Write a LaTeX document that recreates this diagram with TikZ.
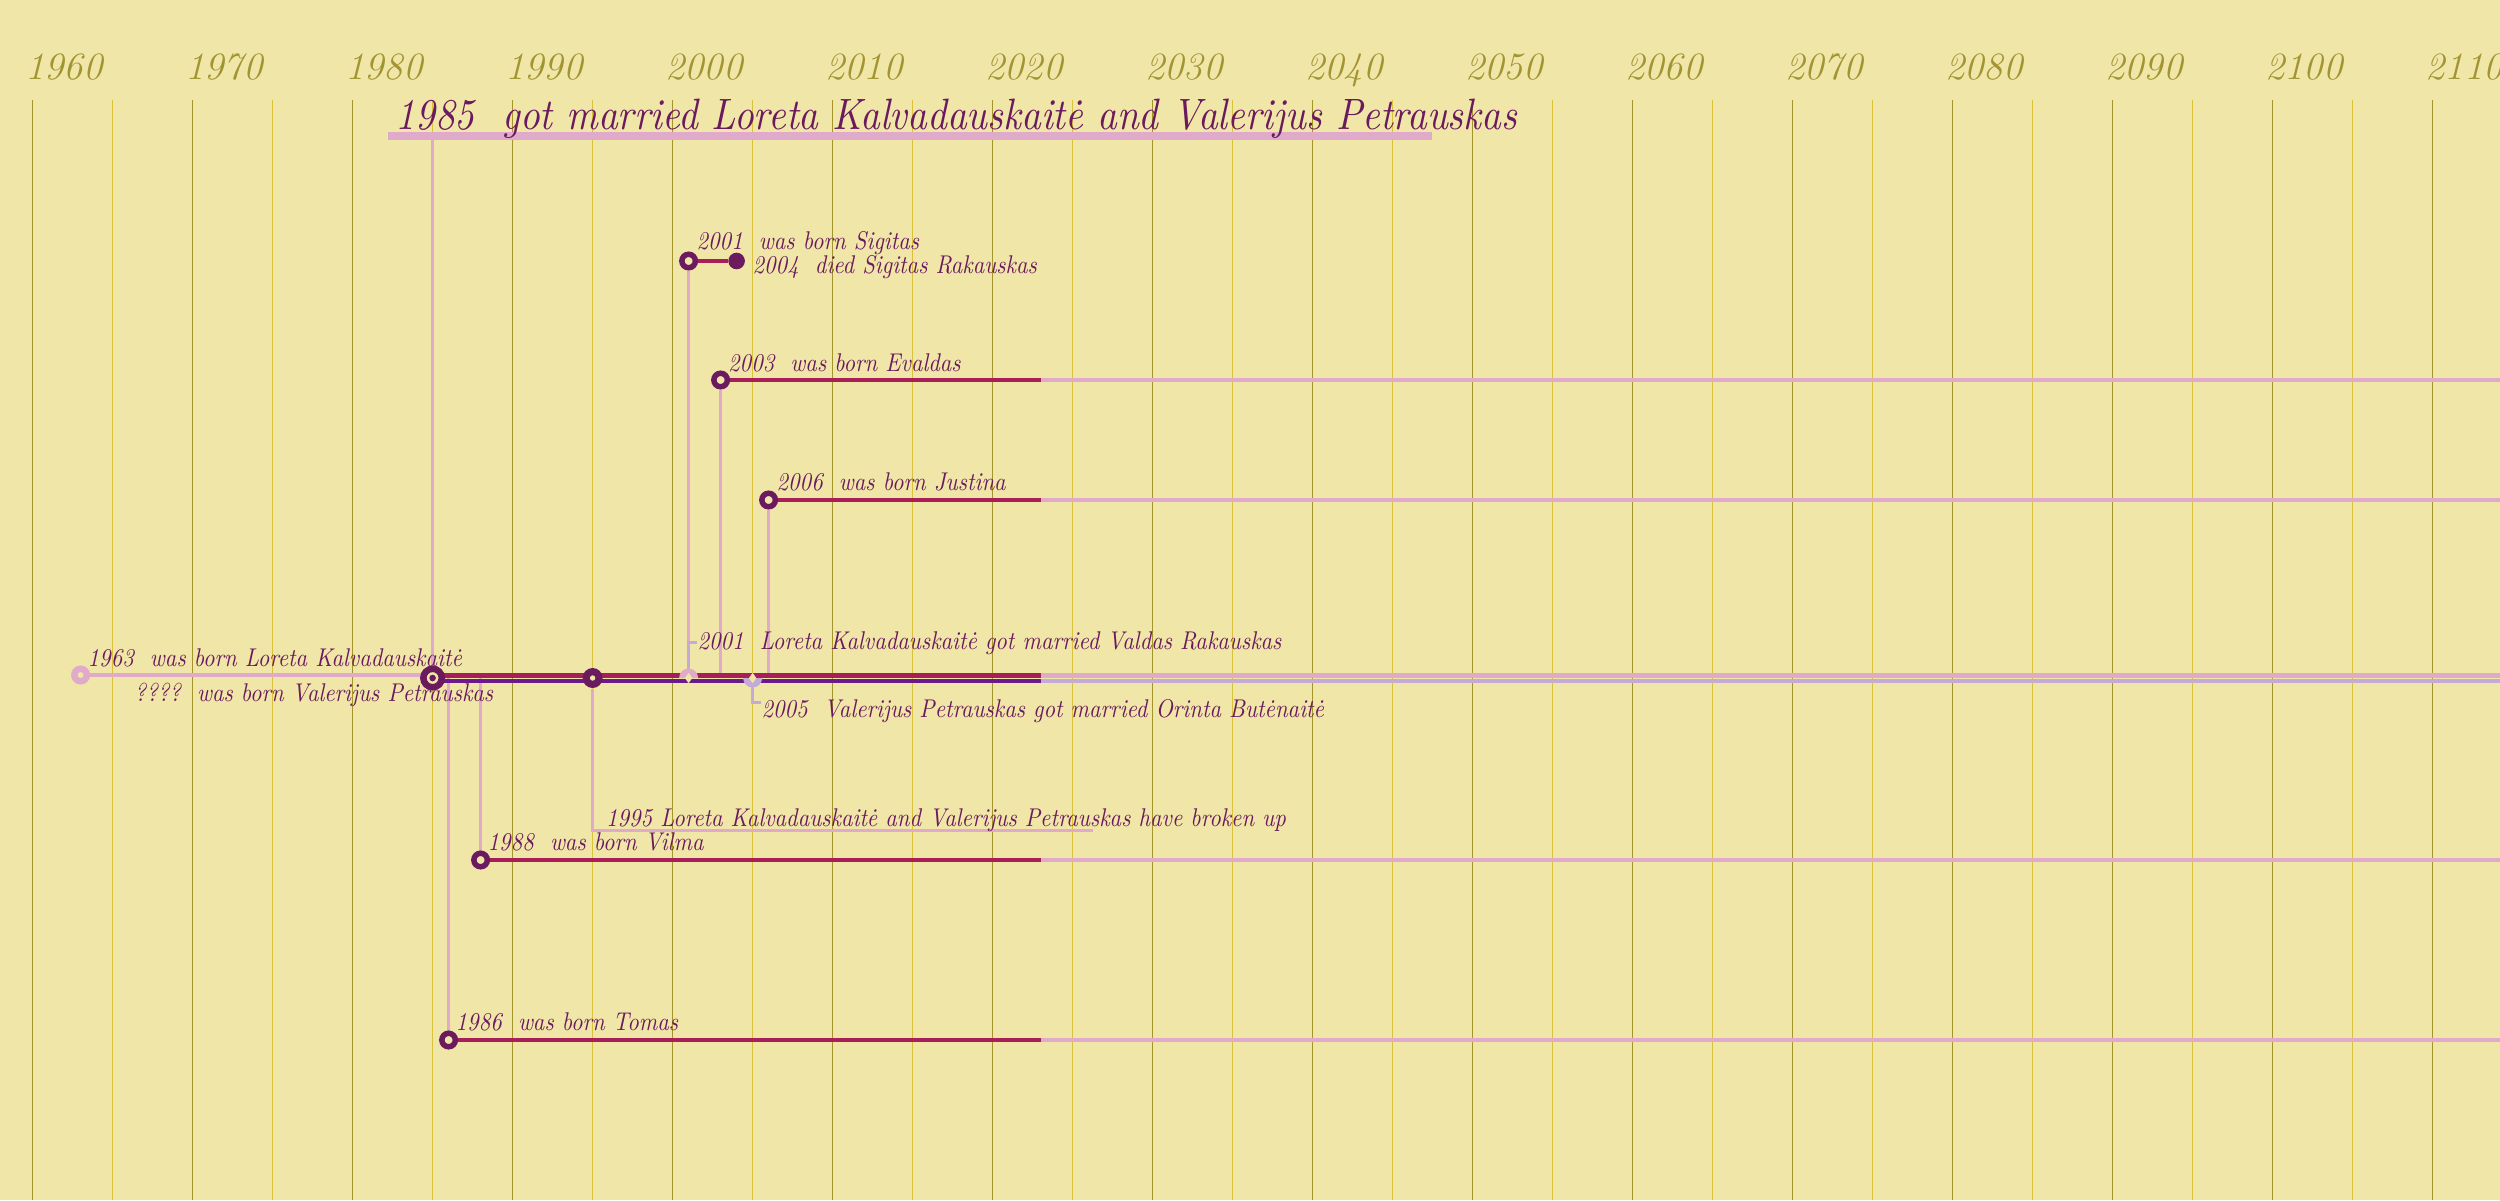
\documentclass[tikz,border=0pt]{standalone}
\usepackage{fontspec}
\usepackage{tikz}
\usetikzlibrary{shapes.geometric}
\newfontfamily\handfont{lmroman10-italic.otf}[FakeStretch=0.88]
\newfontfamily\headfont{lmroman10-italic.otf}[FakeStretch=0.88]
\pgfdeclarelayer{paper}
\pgfdeclarelayer{lines}
\pgfsetlayers{paper,lines,main}
\definecolor{paperc}{HTML}{F0E6A8}
\definecolor{decadec}{HTML}{A3952A}
\definecolor{halfc}{HTML}{D8C23A}
\definecolor{yearc}{HTML}{A39432}
\definecolor{inkc}{HTML}{6B1A5E}
\definecolor{crimsonc}{HTML}{A81E58}
\definecolor{purplec}{HTML}{6A1A8A}
\definecolor{pinkc}{HTML}{E0AACA}
\definecolor{lavenderc}{HTML}{C4AAD6}

\begin{document}
\begin{tikzpicture}[
        x=1.6mm, y=-0.1mm, shift={(-1957.9625,0)},
        yearlabel/.style={anchor=base west, inner sep=0pt, xshift=-0.8mm, text=yearc, font=\fontsize{11}{13}\selectfont\itshape},
        evtext/.style={anchor=base west, inner sep=0pt, text=inkc, font=\fontsize{7.3}{9}\handfont},
        headline/.style={evtext, font=\fontsize{12.5}{14}\headfont},
        born/.style={circle, draw=inkc, fill=paperc, line width=0.55mm, minimum size=1.35mm, inner sep=0pt},
        firstborn/.style={born, draw=pinkc, line width=0.65mm, minimum size=1.25mm},
        died/.style={circle, fill=inkc, minimum size=1.66mm, inner sep=0pt},
        wedding/.style={born, line width=0.65mm, minimum size=1.85mm,
          path picture={\fill[inkc] (path picture bounding box.center) circle (0.33mm);}},
        breakup/.style={circle, fill=inkc, minimum size=2mm, inner sep=0pt,
          path picture={\fill[paperc] (path picture bounding box.center) circle (0.27mm);}},
        gap/.style={diamond, fill=paperc, minimum width=0.8mm, minimum height=1.1mm, inner sep=0pt},
        lifeline/.style={line width=0.44mm},
        kidline/.style={line width=0.36mm},
        link/.style={pinkc, line width=0.3mm},
        tick/.style={lavenderc, line width=0.3mm}
        ]

        \useasboundingbox (1957.9625,0) rectangle (2114.2125,1200);

        \begin{pgfonlayer}{paper}
          \fill[paperc] (1957.9625,0) rectangle (2114.2125,1200);
          \foreach \yr in {1965,1975,...,2105}
            \draw[halfc, line width=0.15mm] (\yr,100) -- (\yr,1200);
          \foreach \yr in {1960,1970,...,2110} {
            \draw[decadec, line width=0.15mm] (\yr,100) -- (\yr,1200);
            \node[yearlabel] (y\yr) at (\yr,80) {\yr};
          }
        \end{pgfonlayer}

        \node[firstborn] (lorBorn) at (1963,675) {};
        \node[wedding]   (married) at (1985,678) {};
        \node[breakup]   (brokeUp) at (1995,678) {};
        \fill[pinkc] (2001,678) ++(-0.95mm,0) arc[start angle=180, end angle=0, radius=0.95mm] -- cycle;
        \node[gap]       (wedL)    at (2001,678) {};
        \fill[lavenderc] (2005,678) ++(-0.95mm,0) arc[start angle=180, end angle=360, radius=0.95mm] -- cycle;
        \node[gap]       (wedV)    at (2005,678) {};

        \node[born] (sigBorn) at (2001,261)  {};
        \node[died] (sigDied) at (2004,261)  {};
        \node[born] (evBorn)  at (2003,380)  {};
        \node[born] (juBorn)  at (2006,500)  {};
        \node[born] (viBorn)  at (1988,860)  {};
        \node[born] (toBorn)  at (1986,1040) {};

        \node[headline] (title)      at (1982.65,130) {1985~~got married Loreta Kalvadauskaitė and Valerijus Petrauskas};
        \node[evtext]   (lblLor)     at (1963.4,666)  {1963~~was born Loreta Kalvadauskaitė};
        \node[evtext]   (lblVal)     at (1966.34,701) {????~~was born Valerijus Petrauskas};
        \node[evtext]   (lblWedL)    at (2001.52,649) {2001~~Loreta Kalvadauskaitė got married Valdas Rakauskas};
        \node[evtext]   (lblWedV)    at (2005.52,717) {2005~~Valerijus Petrauskas got married Orinta Butėnaitė};
        \node[evtext]   (lblBroke)   at (1995.8,826)  {1995 Loreta Kalvadauskaitė and Valerijus Petrauskas have broken up};
        \node[evtext]   (lblSig)     at (2001.46,249) {2001~~was born Sigitas};
        \node[evtext]   (lblSigDied) at (2004.96,273) {2004~~died Sigitas Rakauskas};
        \node[evtext]   (lblEv)      at (2003.43,371) {2003~~was born Evaldas};
        \node[evtext]   (lblJu)      at (2006.46,490) {2006~~was born Justina};
        \node[evtext]   (lblVi)      at (1988.4,850)  {1988~~was born Vilma};
        \node[evtext]   (lblTo)      at (1986.4,1030) {1986~~was born Tomas};

        \begin{pgfonlayer}{lines}
          \coordinate (titleL) at (1982.21,136);
          \coordinate (titleR) at (2047.46,136);
          \draw[link] (married) -- (married |- titleL);
          \draw[pinkc, line width=0.8mm] (titleL) -- (titleR);

          \foreach \kid/\yr/\yy in {ev/2003/380, ju/2006/500, vi/1988/860, to/1986/1040} {
            \coordinate (\kid Up)  at (\yr,678);
            \coordinate (\kid Now) at (2023,\yy);
            \coordinate (\kid End) at (2114.3,\yy);
            \draw[link] (\kid Born) -- (\kid Up);
            \draw[kidline, crimsonc] (\kid Born) -- (\kid Now);
            \draw[kidline, pinkc] (\kid Now) -- (\kid End);
          }
          \draw[link] (sigBorn) -- (wedL);
          \draw[kidline, crimsonc] (sigBorn) -- (sigDied);

          \coordinate (brokeEnd) at (2026.27,830);
          \draw[link] (brokeUp) |- (brokeEnd);

          \coordinate (lorNow) at (2023,675.5);
          \coordinate (lorEnd) at (2114.3,675.5);
          \coordinate (valNow) at (2023,681);
          \coordinate (valEnd) at (2114.3,681);
          \draw[lifeline, pinkc] (lorBorn) -- (married.center |- lorBorn);
          \draw[lifeline, crimsonc] (married.center |- lorNow) -- (lorNow);
          \draw[lifeline, pinkc] (lorNow) -- (lorEnd);
          \draw[lifeline, purplec] (married.center |- valNow) -- (valNow);
          \draw[lifeline, lavenderc] (valNow) -- (valEnd);

          \draw[tick] (wedL) |- (lblWedL.west);
          \draw[tick] (wedV) |- ([yshift=-0.4mm]lblWedV.north west);
        \end{pgfonlayer}
      \end{tikzpicture}
\end{document}
